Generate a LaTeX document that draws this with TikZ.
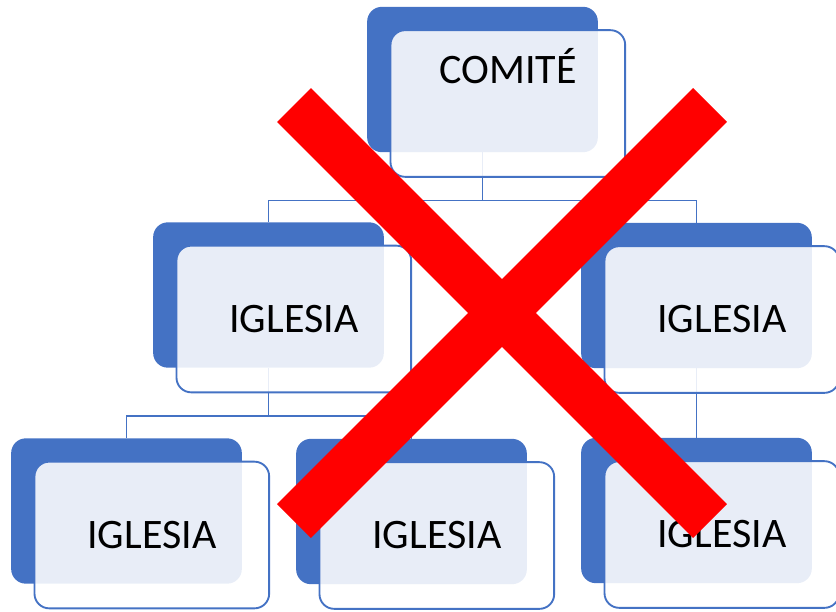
\documentclass[tikz,border=0pt]{standalone}
\usepackage{fontspec}
\setmainfont{Carlito}
\usetikzlibrary{positioning}
\definecolor{boxblue}{RGB}{68,114,196}
\definecolor{crossred}{RGB}{255,0,0}

\begin{document}
\begin{tikzpicture}[
    x=0.75pt, y=-0.75pt,
    back/.style={rectangle, rounded corners=11pt, fill=boxblue, minimum width=173pt, minimum height=109pt, inner sep=0pt},
    front/.style={rectangle, rounded corners=11pt, draw=boxblue, line width=1.4pt, fill=white, fill opacity=0.88, text opacity=1, minimum width=176pt, minimum height=110pt, inner sep=0pt, font=\fontsize{31.5pt}{36pt}\selectfont},
    link/.style={draw=boxblue, line width=1.4pt},
    cross/.style={draw=crossred, line width=36pt}
]
    \useasboundingbox (0,0) rectangle (836,611);

    % Back boxes
    \node[back] (comite) at (482.5,79.5) {};
    \node[back] (iglA) at (268.5,295) {};
    \node[back] (iglB) at (696.5,295.5) {};
    \node[back] (iglC) at (126.5,511) {};
    \node[back] (iglD) at (411.5,511.5) {};
    \node[back] (iglE) at (696.5,510.5) {};

    % Connectors
    \draw[link] (comite.south) -- ++(0,48) -| (iglA.north);
    \draw[link] (comite.south) -- ++(0,48) -| (iglB.north);
    \draw[link] (iglA.south) -- ++(0,48) -| (iglC.north);
    \draw[link] (iglA.south) -- ++(0,48) -| (iglD.north);
    \draw[link] (iglB.south) -- (iglE.north);

    % Front boxes
    \node[front] (comiteF) at ([xshift=19pt,yshift=-18pt]comite.center) {};
    \node[front] (iglAF) at ([xshift=19pt,yshift=-18pt]iglA.center) {IGLESIA};
    \node[front] (iglBF) at ([xshift=19pt,yshift=-18pt]iglB.center) {IGLESIA};
    \node[front] (iglCF) at ([xshift=19pt,yshift=-18pt]iglC.center) {IGLESIA};
    \node[front] (iglDF) at ([xshift=19pt,yshift=-18pt]iglD.center) {IGLESIA};
    \node[front] (iglEF) at ([xshift=19pt,yshift=-18pt]iglE.center) {IGLESIA};
    \node[font=\fontsize{31.5pt}{36pt}\selectfont, anchor=base, inner sep=0pt] (comiteT) at (508,83) {COMITÉ};

    % Red cross
    \draw[cross] (294,105) -- (710,521);
    \draw[cross] (710,105) -- (294,521);

\end{tikzpicture}
\end{document}
